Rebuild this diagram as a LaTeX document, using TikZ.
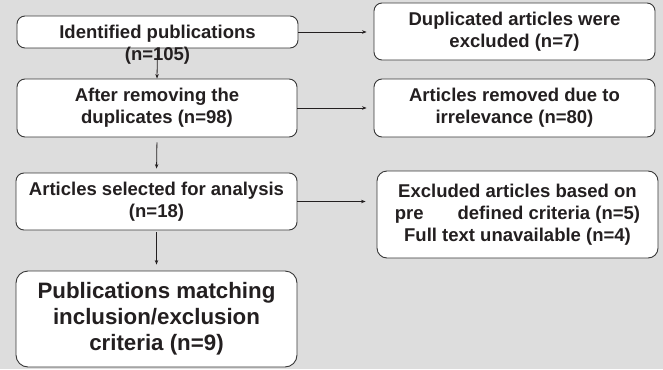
\documentclass[tikz,border=0pt]{standalone}
\usepackage{fontspec}
\setmainfont{Liberation Sans}
\usetikzlibrary{arrows.meta,calc}
\definecolor{bg}{RGB}{221,221,221}
\definecolor{ink}{RGB}{35,31,32}
\definecolor{edge}{RGB}{55,55,55}
\tikzset{
  box/.style={draw=edge, fill=white, line width=0.9pt, rounded corners=8pt, inner sep=0pt},
  txt/.style={text=ink, align=center, font=\bfseries\fontsize{18.5}{22}\selectfont, inner sep=0pt},
  bigtxt/.style={text=ink, align=center, font=\bfseries\fontsize{22.3}{26}\selectfont, inner sep=0pt},
  arr/.style={draw=ink, line width=0.8pt, -{Stealth[length=4.5pt,width=3.5pt]}}
}
\begin{document}
\begin{tikzpicture}[x=1pt,y=1pt]
\useasboundingbox (0,0) rectangle (663,-369);
\fill[bg] (0,0) rectangle (663,-369);
% left column boxes
\node[box, minimum width=281, minimum height=32] (b1) at (157.5,-32) {};
\node[txt] (b1t) at (157.5,-45) {Identified publications\\(n=105)};
\node[box, minimum width=280, minimum height=58, txt] (b2) at (157,-108) {After removing the\\duplicates (n=98)};
\node[box, minimum width=281, minimum height=57, txt] (b3) at (156.5,-201.5) {Articles selected for analysis\\(n=18)};
\node[box, minimum width=281, minimum height=96, rounded corners=12pt, bigtxt] (b4) at (156.5,-319) {Publications matching\\inclusion/exclusion\\criteria (n=9)};
% right column boxes
\node[box, minimum width=281, minimum height=57, txt] (r1) at (514.5,-31.5) {Duplicated articles were\\excluded (n=7)};
\node[box, minimum width=281, minimum height=58, txt] (r2) at (514.5,-108) {Articles removed due to\\irrelevance (n=80)};
\node[box, minimum width=281, minimum height=87, rounded corners=10pt, txt] (r3) at (517.5,-214.5) {Excluded articles based on\\pre\hspace{34pt}defined criteria (n=5)\\Full text unavailable (n=4)};
% vertical arrows
\draw[arr] (b1.south) -- (b2.north);
\draw[arr, shorten <=5pt, shorten >=4pt] (b2.south) -- (b3.north);
\draw[arr, shorten <=2pt, shorten >=6pt] (b3.south) -- (b4.north);
% horizontal arrows
\draw[arr, shorten >=7pt] (b1.east) -- (b1.east -| r1.west);
\draw[arr, shorten >=7pt] (b2.east) -- (r2.west);
\draw[arr, shorten >=11pt] (b3.east) -- (b3.east -| r3.west);
\end{tikzpicture}
\end{document}
